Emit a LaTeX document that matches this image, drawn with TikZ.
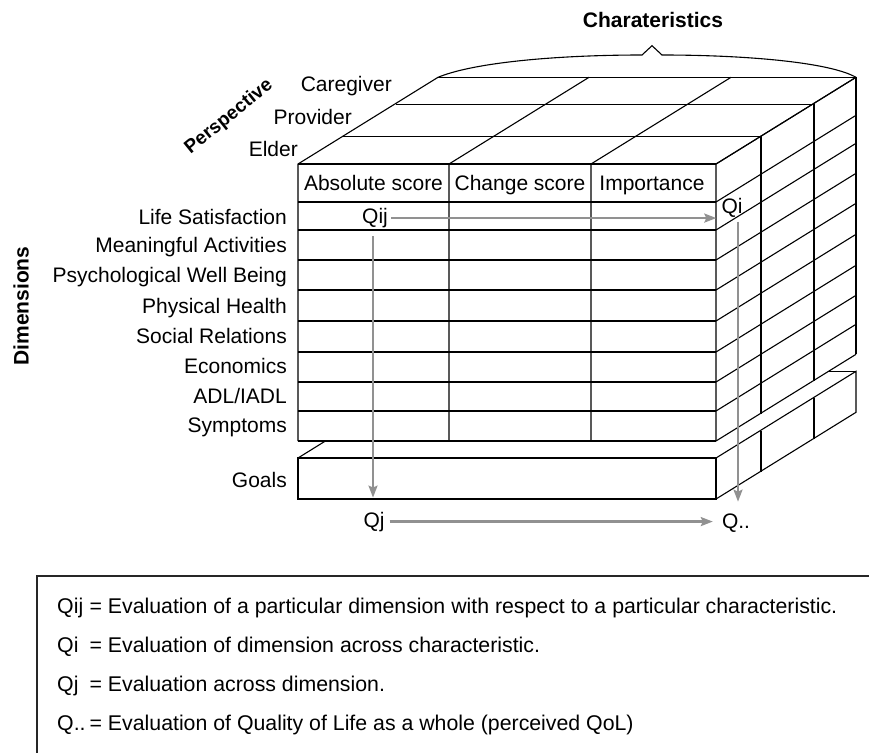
\documentclass[tikz,border=0pt]{standalone}
\usepackage{fontspec}
\setmainfont{Liberation Sans}
\usetikzlibrary{arrows.meta,calc}
\definecolor{arrgray}{RGB}{145,145,145}
\begin{document}
\begin{tikzpicture}[x=1pt,y=-1pt,
  edge/.style={line width=1.1pt,draw=black,line join=miter},
  garrow/.style={line width=2.2pt,draw=arrgray,-{Stealth[length=12pt,width=9pt,inset=2pt]}},
  lbl/.style={font=\fontsize{21}{25}\selectfont,inner sep=0pt},
  blbl/.style={font=\fontsize{21}{25}\selectfont\bfseries,inner sep=0pt}]
\useasboundingbox (0,0) rectangle (869,753);

% ---- main block: front face grid and right face
\foreach \y in {164,202,230,260,290,321,352,382,411,441}{
  \draw[edge] (298,\y) -- (716,\y);
  \draw[edge] (716,\y) -- ++(140,-86.7);
}
\foreach \x in {298,449,591,716}{
  \draw[edge] (\x,441) -- (\x,164) -- ++(140,-86.7);
}
\foreach \dx/\dy in {45/27.3,98/59.7,140/86.7}{
  \draw[edge] (298+\dx,164-\dy) -- (716+\dx,164-\dy) -- (716+\dx,441-\dy);
}

% ---- goals slab
\draw[edge] (298,458) rectangle (716,499);
\draw[edge] (716,458) -- ++(140,-86.7) -- ++(0,41) -- (716,499);
\draw[edge] (828.5,371.3) -- (856,371.3);
\draw[edge] (298,458) -- (325.4,441);
\draw[edge] (761,430.7) -- (761,471.7);
\draw[edge] (814,398.3) -- (814,439.3);

% ---- brace over characteristics
\draw[edge] (438,77.3) .. controls (475,62) and (560,55) .. (642,55)
  -- (652,45.7) -- (662,55) .. controls (744,55) and (829,62) .. (856,77.3);

% ---- titles
\node[blbl,anchor=base] (chartitle) at (653,27.5) {Charateristics};
\node[inner sep=0pt,font=\fontsize{19}{23}\selectfont\bfseries,rotate=39] (persp) at (229,117) {Perspective};
\node[blbl,rotate=90] (dims) at (21,306) {Dimensions};

% ---- perspective labels
\node[lbl,anchor=base east] (care) at (392,91.5) {Caregiver};
\node[lbl,anchor=base east] (prov) at (352,124.5) {Provider};
\node[lbl,anchor=base east] (elder) at (298,156.5) {Elder};

% ---- column headers
\node[lbl,anchor=base] (h1) at (373.5,190.5) {Absolute score};
\node[lbl,anchor=base] (h2) at (520,190.5) {Change score};
\node[lbl,anchor=base] (h3) at (652,190.5) {Importance};

% ---- dimension labels
\foreach \n/\t/\yy in {d1/Life Satisfaction/224.5, d2/Meaningful Activities/252.5,
  d3/Psychological Well Being/282.5, d4/Physical Health/313, d5/Social Relations/343.5,
  d6/Economics/373.5, d7/ADL\slash IADL/403.5, d8/Symptoms/432.5, d9/Goals/487}{
  \node[lbl,anchor=base east] (\n) at (287,\yy) {\t};
}

% ---- Q labels
\node[lbl,anchor=base] (Qij) at (375,223.5) {Qij};
\node[lbl,anchor=base] (Qi) at (732,213.5) {Qi};
\node[lbl,anchor=base] (Qj) at (374,527) {Qj};
\node[lbl,anchor=base] (Qdd) at (736,528.5) {Q..};

% ---- arrows
\draw[garrow,shorten <=3pt,shorten >=5pt] (Qij.east) -- (Qij.east -| Qi.west);
\draw[garrow,shorten <=8pt,shorten >=14pt] ([xshift=-2pt]Qij.south) -- ([xshift=-2pt]Qij.south |- Qj.north);
\draw[garrow,shorten <=4pt,shorten >=12pt] ([xshift=6pt]Qi.south) -- ([xshift=6pt]Qi.south |- Qdd.north);
\draw[garrow,shorten <=5pt,shorten >=9pt] (Qj.east) -- (Qj.east -| Qdd.west);

% ---- legend box
\draw[line width=1.2pt,draw=black!85] (869,576) -- (37,576) -- (37,753);
\foreach \n/\q/\t/\yy in {
  L1/Qij/Evaluation of a particular dimension with respect to a particular characteristic./613,
  L2/Qi/Evaluation of dimension across characteristic./652,
  L3/Qj/Evaluation across dimension./691,
  L4/Q../Evaluation of Quality of Life as a whole (perceived QoL)/730}{
  \node[inner sep=0pt,font=\fontsize{21.3}{25}\selectfont,anchor=base west] (\n) at (57,\yy) {\makebox[26.5pt][l]{\q}\ = \t};
}
\end{tikzpicture}
\end{document}
